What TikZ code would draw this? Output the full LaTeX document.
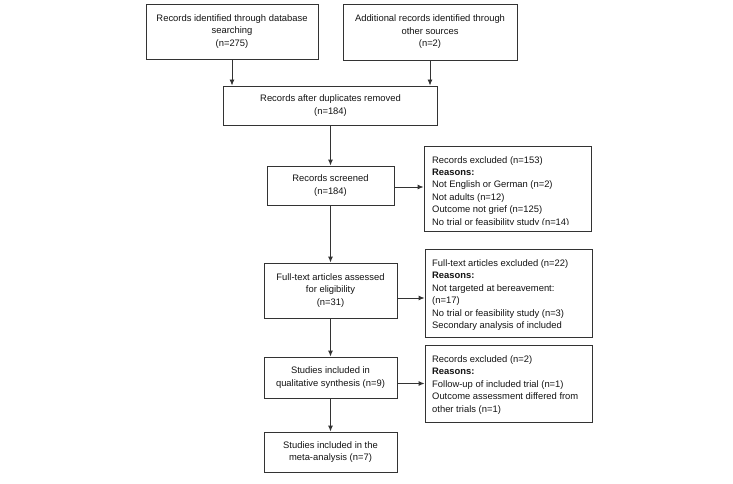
\documentclass[tikz,border=0pt]{standalone}
\usepackage{fontspec}
\setmainfont{Liberation Sans}
\usetikzlibrary{arrows.meta,calc}
\definecolor{linec}{gray}{0.2}
\definecolor{textc}{gray}{0.08}
\tikzset{
  box/.style={draw=linec, line width=0.9pt, fill=white, inner sep=0pt, align=center,
     text=textc, font=\fontsize{9.4}{12.5}\selectfont},
  exbox/.style={draw=linec, line width=0.9pt, fill=white, inner sep=0pt},
  extext/.style={anchor=north west, inner sep=0pt, align=left, text=textc,
     font=\fontsize{9.4}{12.4}\selectfont},
  arr/.style={draw=linec, line width=0.9pt, -{Latex[length=6pt,width=5pt]}}
}
\begin{document}
\begin{tikzpicture}[x=1pt,y=-1pt]
\useasboundingbox[fill=white] (0,0) rectangle (733,484);
% main column
\node[box, minimum width=172pt, minimum height=55pt] (A) at (232,31.5)
  {Records identified through database\\searching\\(n=275)};
\node[box, minimum width=174pt, minimum height=56pt] (B) at (430,32)
  {Additional records identified through\\other sources\\(n=2)};
\node[box, minimum width=214pt, minimum height=39pt] (C) at (330.5,105.5)
  {Records after duplicates removed\\(n=184)};
\node[box, minimum width=127pt, minimum height=39pt] (D) at (330.5,185.5)
  {Records screened\\(n=184)};
\node[box, minimum width=133pt, minimum height=55pt] (E) at (330.5,290.5)
  {Full-text articles assessed\\for eligibility\\(n=31)};
\node[box, minimum width=133pt, minimum height=41pt] (F) at (330.5,377.5)
  {Studies included in\\qualitative synthesis (n=9)};
\node[box, minimum width=133pt, minimum height=40pt] (G) at (330.5,452)
  {Studies included in the\\meta-analysis (n=7)};
% exclusion boxes
\node[exbox, minimum width=167pt, minimum height=85pt] (X1) at (507.5,188.5) {};
\node[exbox, minimum width=167pt, minimum height=88pt] (X2) at (508.5,293) {};
\node[exbox, minimum width=167pt, minimum height=77pt] (X3) at (508.5,383.5) {};
\begin{scope}
  \clip (X1.north west) rectangle ($(X1.south east)+(0,-6.5)$);
  \node[extext] (T1) at (432,156) {Records excluded (n=153)\\\textbf{Reasons:}\\Not English or German (n=2)\\Not adults (n=12)\\Outcome not grief (n=125)\\No trial or feasibility study (n=14)};
\end{scope}
\node[extext] (T2) at (432,259.5) {Full-text articles excluded (n=22)\\\textbf{Reasons:}\\Not targeted at bereavement:\\(n=17)\\No trial or feasibility study (n=3)\\Secondary analysis of included};
\node[extext] (T3) at (432,355.5) {Records excluded (n=2)\\\textbf{Reasons:}\\Follow-up of included trial (n=1)\\Outcome assessment differed from\\other trials (n=1)};
% connectors
\coordinate (y1) at (0,187);
\coordinate (y2) at (0,298);
\coordinate (y3) at (0,383.5);
\draw[arr] (A.south) -- (A.south |- C.north);
\draw[arr] (B.south) -- (B.south |- C.north);
\draw[arr] (C.south) -- (D.north);
\draw[arr] (D.south) -- (E.north);
\draw[arr] (E.south) -- (F.north);
\draw[arr] (F.south) -- (G.north);
\draw[arr] (D.east |- y1) -- (X1.west |- y1);
\draw[arr] (E.east |- y2) -- (X2.west |- y2);
\draw[arr] (F.east |- y3) -- (X3.west |- y3);
\end{tikzpicture}
\end{document}
